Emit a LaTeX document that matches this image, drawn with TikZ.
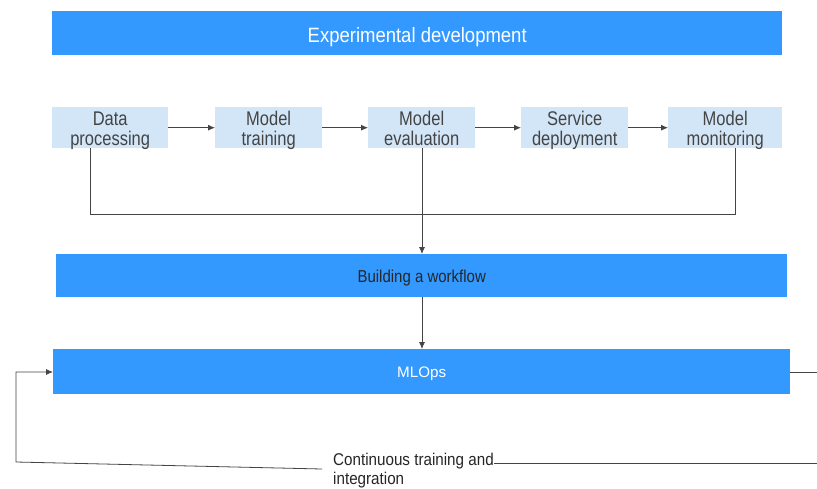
\documentclass[tikz,border=0pt]{standalone}
\usepackage{graphicx}
\usepackage{fontspec}
\setmainfont{Liberation Sans}
\usetikzlibrary{arrows.meta}
\definecolor{barblue}{HTML}{3399FF}
\definecolor{stepblue}{HTML}{D3E6F8}
\definecolor{linegray}{HTML}{444444}
\newcommand\tallt[2][1.2]{\scalebox{1}[#1]{#2}}
\begin{document}
\begin{tikzpicture}[x=1pt,y=-1pt,
  bar/.style={fill=barblue,draw=none,inner sep=0pt,anchor=north west},
  stepbox/.style={fill=stepblue,draw=none,inner sep=0pt,anchor=north west,
     text height=38pt,text depth=3pt,
     align=center,text=linegray,font=\fontsize{16.5}{20}\selectfont},
  conn/.style={draw=linegray,line width=0.8pt},
  arr/.style={conn,-{Latex[length=7pt,width=6pt]}}]
\useasboundingbox[fill=white] (0,0) rectangle (817,488);
\node[bar,minimum width=730pt,text height=31pt,text depth=13pt,text=white,font=\fontsize{18.5}{22}\selectfont] (exp) at (52,11) {\tallt[1.12]{Experimental development}};
\node[stepbox,minimum width=116pt] (dp) at (52,107) {\tallt{Data}\\\tallt{processing}};
\node[stepbox,minimum width=107pt] (mt) at (215,107) {\tallt{Model}\\\tallt{training}};
\node[stepbox,minimum width=107pt] (me) at (368,107) {\tallt{Model}\\\tallt{evaluation}};
\node[stepbox,minimum width=107pt] (sd) at (521,107) {\tallt{Service}\\\tallt{deployment}};
\node[stepbox,minimum width=114pt] (mm) at (668,107) {\tallt{Model}\\\tallt{monitoring}};
\node[bar,minimum width=731pt,text height=28pt,text depth=15pt,text=black!85,font=\fontsize{15}{18}\selectfont] (bw) at (56,254) {\tallt[1.15]{Building a workflow}};
\node[bar,minimum width=737pt,text height=28pt,text depth=17pt,text=white,font=\fontsize{15.2}{18}\selectfont] (ml) at (53,349) {MLOps};
\node[anchor=base west,inner sep=0pt,align=left,text=black!85,font=\fontsize{15.2}{19}\selectfont] (ct) at (333,484.5) {\tallt[1.12]{Continuous training and}\\\tallt[1.12]{integration}};
\coordinate (ctr) at (494,463);
\coordinate (ctl) at (322,469);
\coordinate (re) at (817,372);
\coordinate (re2) at (817,463);
\coordinate (lb) at (16,462);
\draw[arr] (dp) -- (mt);
\draw[arr] (mt) -- (me);
\draw[arr] (me) -- (sd);
\draw[arr] (sd) -- (mm);
\draw[conn] (dp.south -| 90,0) -- (90,214) -- (735,214) -- (mm.south -| 735,0);
\draw[arr] (me.south -| 422,0) -- (bw.north -| 422,0);
\draw[arr] (bw.south -| 422,0) -- (ml.north -| 422,0);
\draw[conn] (ml.east |- re) -- (re);
\draw[conn] (ctr) -- (re2);
\draw[arr] (ctl) -- (lb) -- (16,372) -- (ml.west |- 0,372);
\end{tikzpicture}
\end{document}
